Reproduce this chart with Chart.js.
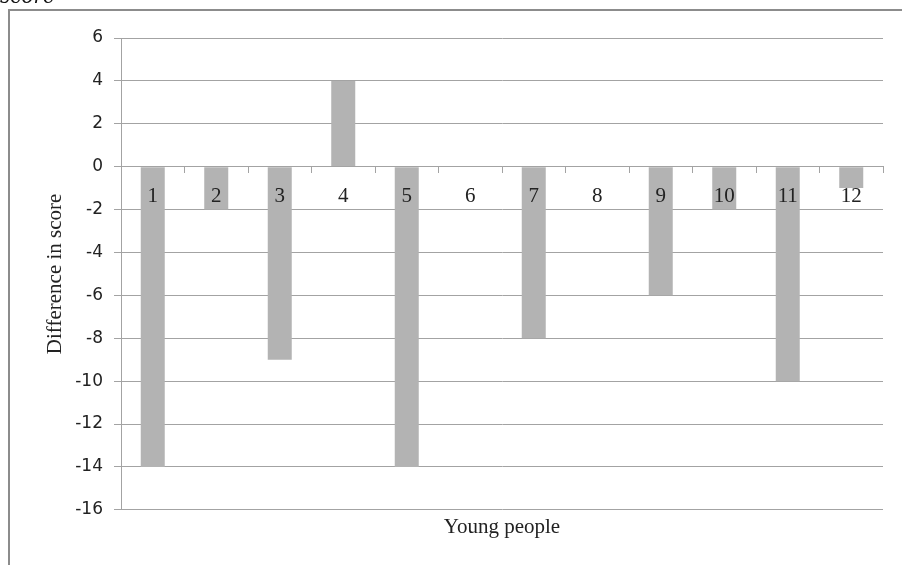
<!DOCTYPE html>
<html>
<head>
<meta charset="utf-8">
<script src="https://cdn.jsdelivr.net/npm/chart.js@4.4.1/dist/chart.umd.min.js"></script>
<style>
  html, body { margin: 0; padding: 0; background: #fff; overflow: hidden; }
  #wrap { position: relative; width: 902px; height: 565px; }
  #frame {
    position: absolute; left: 8px; top: 9px; width: 1000px; height: 700px;
    border-top: 2px solid #8c8c8c; border-left: 2px solid #8c8c8c;
    pointer-events: none;
  }
  #cut {
    position: absolute; left: 0; top: -16px; line-height: 20px;
    font: italic 20px "DejaVu Serif", serif; color: #111; white-space: nowrap;
  }
</style>
</head>
<body>
<div id="wrap">
  <canvas id="chart" width="902" height="565"></canvas>
  <div id="cut">score</div>
  <div id="frame"></div>
</div>
<script>
const youngPeople = ["1", "2", "3", "4", "5", "6", "7", "8", "9", "10", "11", "12"];
const scoreDiff = [-14, -2, -9, 4, -14, 0, -8, 0, -6, -2, -10, -1];
const yMin = -16;
const yMax = 6;
const yStep = 2;

const gridGrey = "#a3a3a3";
const serif = "'Liberation Serif', 'Times New Roman', serif";

new Chart(document.getElementById("chart"), {
    type: "bar",
    data: {
        labels: youngPeople,
        datasets: [{
            label: "Difference in score",
            data: scoreDiff,
            backgroundColor: "#b3b3b3",
            borderWidth: 0,
            barPercentage: 0.378,
            categoryPercentage: 1
        }]
    },
    options: {
        responsive: false,
        animation: false,
        events: [],
        layout: { padding: { left: 0, right: 19, top: 38, bottom: 25 } },
        plugins: {
            legend: { display: false },
            tooltip: { enabled: false },
            title: {
                display: true,
                text: "Young people",
                position: "bottom",
                fullSize: false,
                color: "#222",
                font: { family: serif, size: 21, weight: "normal" },
                padding: { top: 5, bottom: 0 }
            }
        },
        scales: {
            x: {
                // axis sits on the zero line, labels painted over the bars
                position: { y: 0 },
                grid: {
                    offset: true,
                    drawOnChartArea: false,
                    drawTicks: true,
                    tickLength: 6,
                    color: gridGrey,
                    z: 1
                },
                border: { display: true, color: gridGrey, z: 1 },
                ticks: {
                    z: 1,
                    autoSkip: false,
                    color: "#222",
                    padding: 11,
                    maxRotation: 0,
                    font: { family: serif, size: 21 }
                }
            },
            y: {
                min: yMin,
                max: yMax,
                afterFit: (scale) => { scale.width = 121; },
                grid: { color: gridGrey, tickLength: 7 },
                border: { display: true, color: gridGrey },
                ticks: {
                    stepSize: yStep,
                    color: "#222",
                    padding: 11,
                    font: { family: "'DejaVu Sans', sans-serif", size: 17 }
                },
                title: {
                    display: true,
                    text: "Difference in score",
                    color: "#222",
                    font: { family: serif, size: 21 },
                    padding: { top: 43, bottom: 0 }
                }
            }
        }
    }
});
</script>
</body>
</html>
